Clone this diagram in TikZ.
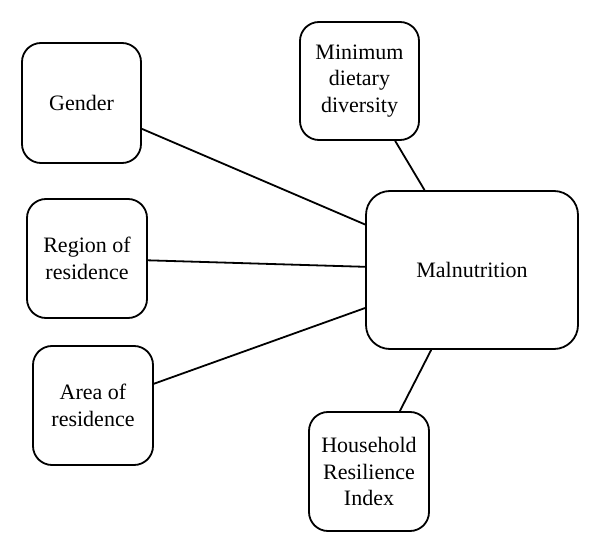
\documentclass[tikz,border=0pt]{standalone}
\usepackage{fontspec}
\setmainfont{Liberation Serif}
\begin{document}
\begin{tikzpicture}[x=1pt,y=-1pt,
  box/.style={draw, line width=1.8pt, rounded corners=19pt, align=center, inner sep=0pt,
    font=\fontsize{22}{26.5}\selectfont},
  link/.style={line width=1.8pt}]
\useasboundingbox (0,0) rectangle (600,553);
\node[box, minimum width=119pt, minimum height=120pt] (gender) at (81.5,103) {Gender};
\node[box, minimum width=120pt, minimum height=119pt] (region) at (87,258.5) {Region of\\residence};
\node[box, minimum width=120pt, minimum height=119pt] (area) at (93,405.5) {Area of\\residence};
\node[box, minimum width=119pt, minimum height=118pt] (mdd) at (359.5,81) {Minimum\\dietary\\diversity};
\node[box, rounded corners=24pt, minimum width=212pt, minimum height=158pt] (mal) at (472,270) {Malnutrition};
\node[box, minimum width=120pt, minimum height=119pt] (hri) at (369,471.5) {Household\\Resilience\\Index};
\draw[link] (gender) -- (mal);
\draw[link] (region) -- (mal);
\draw[link] (area) -- (mal);
\draw[link] (mdd) -- (mal);
\draw[link] (hri) -- (mal);
\end{tikzpicture}
\end{document}
